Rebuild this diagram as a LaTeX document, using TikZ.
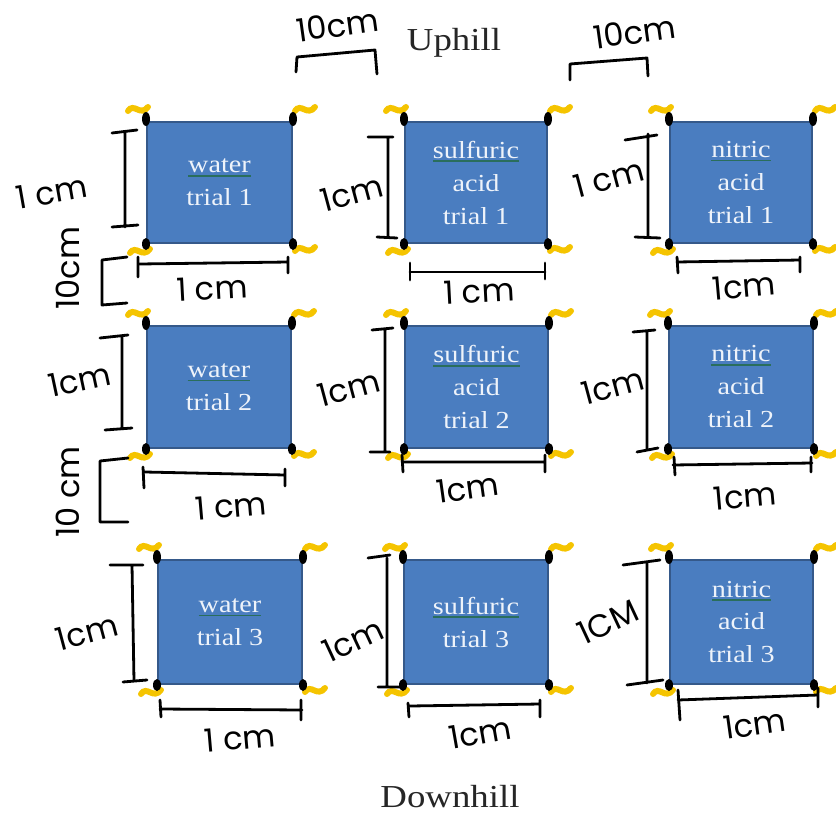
\documentclass[tikz,border=0pt]{standalone}
\usepackage{fontspec}
\setmainfont{Liberation Serif}
\newfontfamily\handfont{Poppins}
\usetikzlibrary{calc}

\definecolor{boxfill}{HTML}{4A7DC0}
\definecolor{boxline}{HTML}{35598A}
\definecolor{boxtext}{HTML}{EEF3FA}
\definecolor{flagyellow}{HTML}{F5C400}
\definecolor{spellline}{HTML}{2A6E5C}

% slightly widened serif lettering
\newcommand\sx[1]{\scalebox{1.15}[1]{#1}}
% word with a thin coloured underline
\newsavebox\spellbox
\newcommand\spellword[1]{\sbox\spellbox{\sx{#1}}\rlap{\color{spellline}\rule[-4pt]{\wd\spellbox}{1.6pt}}\usebox\spellbox}

\begin{document}
\begin{tikzpicture}[x=1pt,y=-1pt,
  plot/.style={draw=boxline, fill=boxfill, line width=2pt, inner sep=0pt,
    text=boxtext, align=center, font=\fontsize{24.5}{33}\selectfont},
  ink/.style={line width=2.8pt, line cap=round, line join=round, black},
  hand/.style={font=\handfont\fontsize{32}{32}\selectfont, inner sep=0pt},
  heading/.style={font=\fontsize{32}{32}\selectfont, text=black!85, inner sep=0pt},
  flag/.style={draw=flagyellow, line width=6pt, line cap=round},
  squiggle/.pic={\draw[flag] (-10,2) .. controls (-4,-7) and (2,8) .. (10,-2);},
]
\useasboundingbox (0,0) rectangle (836,817);
\fill[white] (0,0) rectangle (836,817);

% headings
\node[heading, anchor=base] (up) at (454,50) {\sx{Uphill}};
\node[heading, anchor=base] (down) at (450,807) {\sx{Downhill}};

% plots
\node[plot, minimum width=145pt, minimum height=121pt] (w1) at (219.5,182.5) {\spellword{water}\\\sx{trial 1}};
\node[plot, minimum width=142pt, minimum height=121pt] (s1) at (476,182.5) {\spellword{sulfuric}\\\sx{acid}\\\sx{trial 1}};
\node[plot, minimum width=142pt, minimum height=121pt] (n1) at (741,182.5) {\spellword{nitric}\\\sx{acid}\\\sx{trial 1}};
\node[plot, minimum width=144pt, minimum height=122pt] (w2) at (219,387) {\spellword{water}\\\sx{trial 2}};
\node[plot, minimum width=143pt, minimum height=122pt] (s2) at (476.5,387) {\spellword{sulfuric}\\\sx{acid}\\\sx{trial 2}};
\node[plot, minimum width=144pt, minimum height=122pt] (n2) at (741,387) {\spellword{nitric}\\\sx{acid}\\\sx{trial 2}};
\node[plot, minimum width=144pt, minimum height=124pt] (w3) at (230,622) {\spellword{water}\\\sx{trial 3}};
\node[plot, minimum width=144pt, minimum height=124pt] (s3) at (476,622) {\spellword{sulfuric}\\\sx{trial 3}};
\node[plot, minimum width=143pt, minimum height=124pt] (n3) at (741.5,622) {\spellword{nitric}\\\sx{acid}\\\sx{trial 3}};

% corner stakes and flags
\foreach \b in {w1,s1,n1,w2,s2,n2,w3,s3,n3}{
  \pic at ($(\b.north west)+(-8,-12)$) {squiggle};
  \pic at ($(\b.north east)+(12,-12)$) {squiggle};
  \pic at ($(\b.south west)+(-6,7)$) {squiggle};
  \pic at ($(\b.south east)+(12,5)$) {squiggle};
  \fill ($(\b.north west)+(0,-2)$) ellipse [x radius=4pt, y radius=7pt];
  \fill ($(\b.north east)+(0,-2)$) ellipse [x radius=4pt, y radius=7pt];
  \fill ($(\b.south west)+(0,0)$) ellipse [x radius=4pt, y radius=6pt];
  \fill ($(\b.south east)+(0,0)$) ellipse [x radius=4pt, y radius=6pt];
}

% spacing brackets
\draw[ink] (296,72) -- (297,57) -- (375,50) -- (377,74);
\draw[ink] (570,80) -- (570,64) -- (647,58) -- (648,76);
\draw[ink] (127,257) -- (102,260) -- (102,305) -- (127,303);
\draw[ink] (128,458) -- (100,461) -- (100,522) -- (128,522);
\node[hand, rotate=8] (t1) at (338,25) {10cm};
\node[hand, rotate=8] (t2) at (635,32) {10cm};
\node[hand, rotate=90] (l1) at (68,268) {10cm};
\node[hand, rotate=90] (l2) at (68,492) {10 cm};

% vertical size marks
\draw[ink] (112,133) -- (137,130) (125,132) -- (125,227) (112,227) -- (138,225);
\draw[ink] (100,338) -- (128,335) (122,337) -- (122,429) (105,430) -- (132,428);
\draw[ink] (110,565) -- (143,565) (132,565) -- (134,681) (123,682) -- (147,680);
\draw[ink] (368,137) -- (393,137) (388,137) -- (388,237) (377,237) -- (397,238);
\draw[ink] (372,330) -- (393,328) (385,329) -- (385,451) (370,452) -- (390,452);
\draw[ink] (368,558) -- (390,555) (387,558) -- (387,686) (378,687) -- (400,687);
\draw[ink] (625,140) -- (657,135) (648,134) -- (648,237) (635,237) -- (660,238);
\draw[ink] (633,332) -- (655,330) (647,331) -- (647,450) (637,452) -- (658,448);
\draw[ink] (623,565) -- (660,560) (647,562) -- (647,683) (627,685) -- (663,680);
\node[hand, rotate=10] (a1) at (52,192) {1 cm};
\node[hand, rotate=12] (a2) at (80,380) {1cm};
\node[hand, rotate=15] (a3) at (87,632) {1cm};
\node[hand, rotate=15] (b1) at (352,193) {1cm};
\node[hand, rotate=15] (b2) at (349,388) {1cm};
\node[hand, rotate=25] (b3) at (353,640) {1cm};
\node[hand, rotate=15] (c1) at (609,178) {1 cm};
\node[hand, rotate=15] (c2) at (613,386) {1cm};
\node[hand, rotate=25] (c3) at (608,622) {1CM};

% horizontal size marks
\draw[ink] (138,257) -- (138,277) (140,264) -- (288,262) (288,257) -- (288,273);
\draw[ink] (143,467) -- (144,488) (145,472) -- (285,475) (285,469) -- (285,486);
\draw[ink] (160,700) -- (161,717) (160,709) -- (302,710) (301,700) -- (301,720);
\draw[ink] (410,263) -- (410,280) (410,272) -- (545,272) (545,263) -- (545,279);
\draw[ink] (402,455) -- (403,472) (402,462) -- (545,462) (545,455) -- (545,472);
\draw[ink] (408,703) -- (409,717) (410,706) -- (540,704) (540,700) -- (540,717);
\draw[ink] (677,257) -- (678,273) (677,262) -- (800,260) (800,257) -- (800,272);
\draw[ink] (674,457) -- (675,475) (673,465) -- (812,463) (811,457) -- (811,472);
\draw[ink] (678,690) -- (680,720) (678,700) -- (818,695) (818,688) -- (818,707);
\node[hand, rotate=3] (d1) at (212,288) {1 cm};
\node[hand, rotate=5] (d2) at (231,506) {1 cm};
\node[hand, rotate=5] (d3) at (240,738) {1 cm};
\node[hand, rotate=3] (e1) at (479,291) {1 cm};
\node[hand, rotate=8] (e2) at (468,488) {1cm};
\node[hand, rotate=10] (e3) at (480,733) {1cm};
\node[hand, rotate=5] (f1) at (744,286) {1cm};
\node[hand, rotate=5] (f2) at (745,496) {1cm};
\node[hand, rotate=8] (f3) at (755,724) {1cm};
\end{tikzpicture}
\end{document}
